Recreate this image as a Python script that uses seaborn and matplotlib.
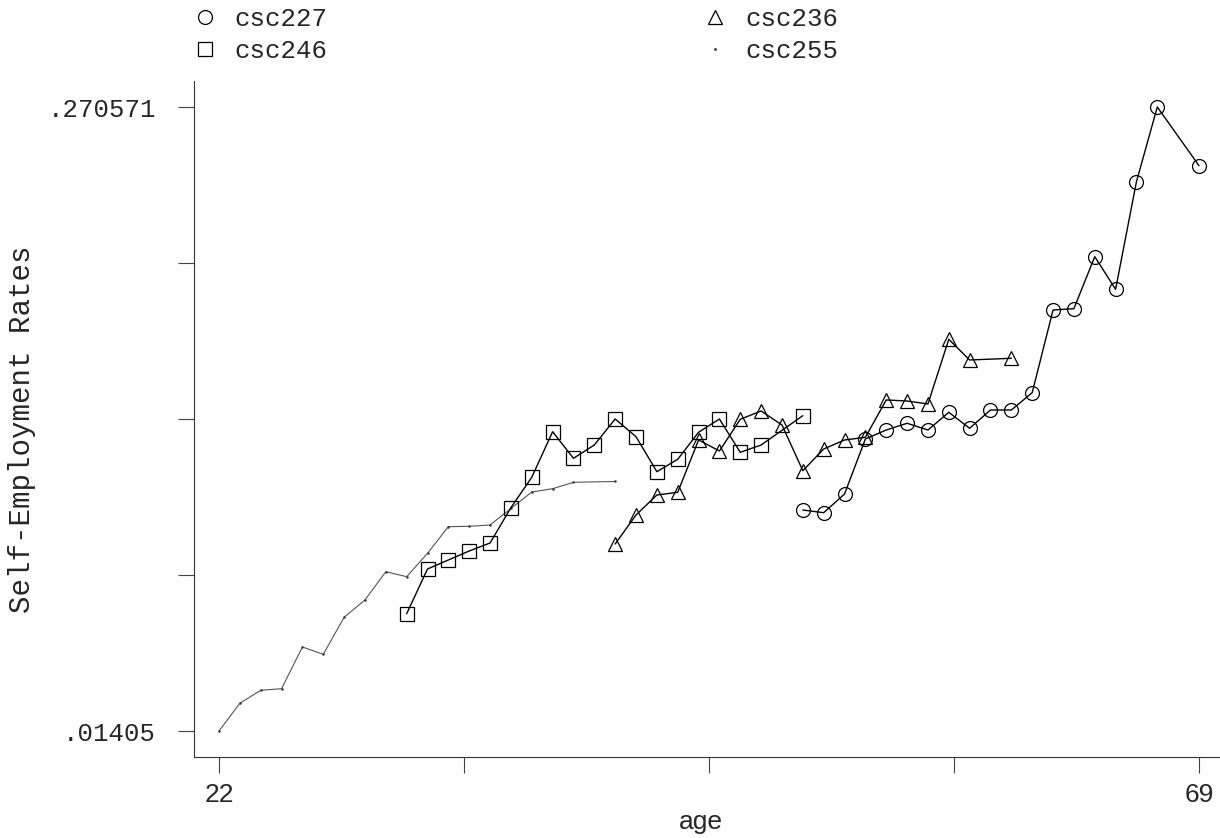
import matplotlib
matplotlib.use('Agg')
import numpy as np
import matplotlib.pyplot as plt
import seaborn as sns
from matplotlib.lines import Line2D

# Self-employment rate by age, one series per birth cohort
ages_227 = [50, 51, 52, 53, 54, 55, 56, 57, 58, 59, 60, 61, 62, 63, 64, 65, 66, 67, 69]
rate_227 = [0.1049, 0.10379, 0.11148, 0.13409, 0.13779, 0.14055, 0.13779, 0.14507,
            0.13849, 0.14601, 0.14601, 0.15313, 0.18712, 0.18766, 0.20904, 0.19563,
            0.23987, 0.270571, 0.24645]

ages_236 = [41, 42, 43, 44, 45, 46, 47, 48, 49, 50, 51, 52, 53, 54, 55, 56, 57, 58, 60]
rate_236 = [0.09093, 0.10285, 0.11107, 0.11218, 0.13368, 0.12916, 0.14219, 0.1456,
            0.13985, 0.12106, 0.12998, 0.13368, 0.13479, 0.15013, 0.14971, 0.14848,
            0.17508, 0.16657, 0.16727]

ages_246 = [31, 32, 33, 34, 35, 36, 37, 38, 39, 40, 41, 42, 43, 44, 45, 46, 47, 48, 50]
rate_246 = [0.06227, 0.08065, 0.08435, 0.08805, 0.09134, 0.10585, 0.11835, 0.13709,
            0.12616, 0.13163, 0.14231, 0.13504, 0.12065, 0.12575, 0.13685, 0.14231,
            0.12862, 0.13163, 0.14367]

ages_255 = [22, 23, 24, 25, 26, 27, 28, 29, 30, 31, 32, 33, 34, 35, 36, 37, 38, 39, 41]
rate_255 = [0.01405, 0.02544, 0.03078, 0.03144, 0.04858, 0.04558, 0.06079, 0.0679,
            0.07954, 0.07748, 0.0871, 0.09804, 0.0982, 0.09874, 0.10552, 0.1123,
            0.11366, 0.11629, 0.11662]

x_lo, x_hi = 22, 69
y_lo, y_hi = 0.01405, 0.270571

sns.set_style('white')
plt.rcParams['font.family'] = ['Liberation Mono', 'DejaVu Sans Mono']
narrow = ['Liberation Sans Narrow', 'Liberation Sans', 'DejaVu Sans']

fig = plt.figure(figsize=(12.2, 8.38), dpi=100)
W, H = 1220, 838
ax = fig.add_axes([194 / W, 1 - 757 / H, 1026 / W, 676 / H])

mk = dict(color='black', linewidth=1.0, markersize=10, markerfacecolor='none',
          markeredgecolor='black', markeredgewidth=0.9, estimator=None, legend=False)
sns.lineplot(x=ages_255, y=rate_255, ax=ax, color='#555555', linewidth=0.8,
             marker='.', markersize=2, markeredgecolor='#333333', estimator=None, legend=False)
sns.lineplot(x=ages_246, y=rate_246, ax=ax, marker='s', **mk)
sns.lineplot(x=ages_236, y=rate_236, ax=ax, marker='^', **mk)
sns.lineplot(x=ages_227, y=rate_227, ax=ax, marker='o', **mk)

# plot region margins: 25px on x, 26px on y around the data range
xs = (x_hi - x_lo) / 980
ys = (y_hi - y_lo) / 624
ax.set_xlim(x_lo - 25 * xs, x_lo - 25 * xs + 1026 * xs)
ax.set_ylim(y_lo - 26 * ys, y_hi + 26 * ys)

ax.set_xticks(np.linspace(x_lo, x_hi, 5))
ax.set_xticklabels(['22', '', '', '', '69'], family=narrow, fontsize=19)
ax.set_yticks(np.linspace(y_lo, y_hi, 5))
ax.set_yticklabels(['.01405', '', '', '', '.270571'], fontsize=18.5)

for s in ['top', 'right']:
    ax.spines[s].set_visible(False)
for s in ['left', 'bottom']:
    ax.spines[s].set_linewidth(0.8)
    ax.spines[s].set_color('#333333')
ax.tick_params(axis='both', direction='out', length=11.5, width=0.8, color='#444444',
               bottom=True, left=True)
ax.tick_params(axis='y', pad=16)
ax.tick_params(axis='x', pad=7)

ax.set_xlabel('age', family=narrow, fontsize=19, va='top')
ax.xaxis.set_label_coords(0.494, -0.079)
ax.set_ylabel('Self-Employment Rates', fontsize=21, va='center', ha='center')
ax.yaxis.set_label_coords(-0.1676, 0.485)

handles = [
    Line2D([], [], linestyle='none', marker='o', markersize=10, markerfacecolor='none',
           markeredgecolor='black', markeredgewidth=0.9),
    Line2D([], [], linestyle='none', marker='s', markersize=10, markerfacecolor='none',
           markeredgecolor='black', markeredgewidth=0.9),
    Line2D([], [], linestyle='none', marker='^', markersize=10, markerfacecolor='none',
           markeredgecolor='black', markeredgewidth=0.9),
    Line2D([], [], linestyle='none', marker='.', markersize=2, color='#333333'),
]
labels = ['csc227', 'csc246', 'csc236', 'csc255']
fig.legend(handles, labels, ncol=2, loc='upper left', bbox_to_anchor=(192 / W, 1 - 7 / H),
           frameon=False, borderpad=0, borderaxespad=0, handlelength=1.0,
           handletextpad=0.667, columnspacing=14.57, labelspacing=0.3, fontsize=18.5)

fig.savefig('out.png', dpi=100)
